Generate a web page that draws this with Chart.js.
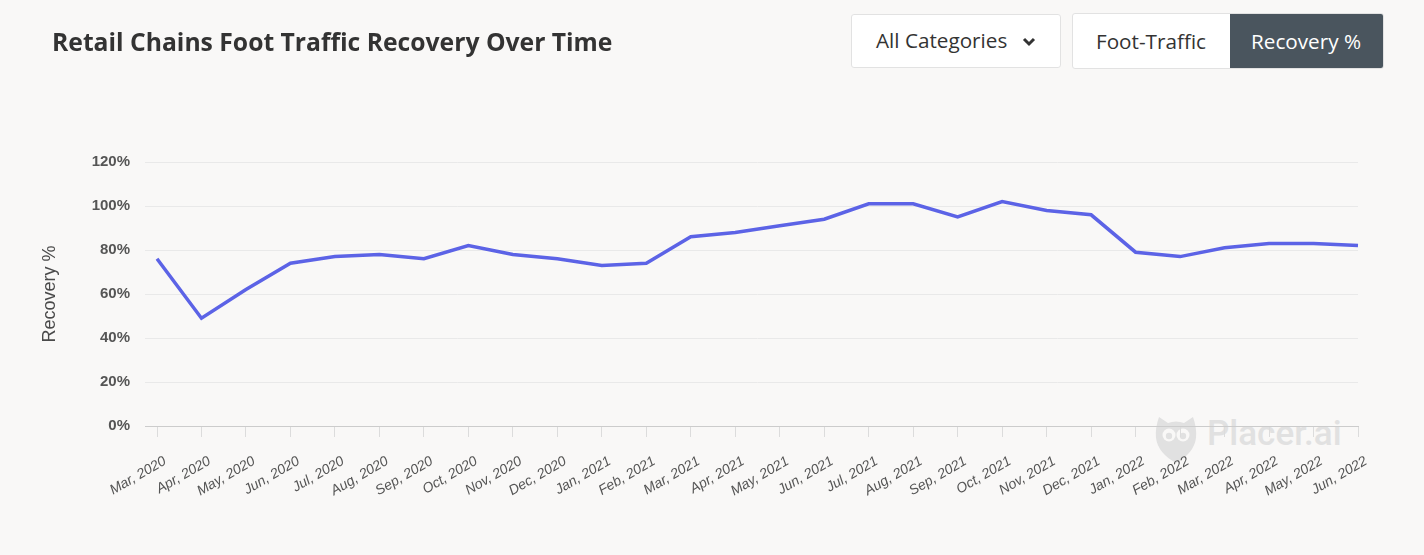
<!DOCTYPE html>
<html>
<head>
<meta charset="utf-8">
<script src="https://cdn.jsdelivr.net/npm/chart.js@4"></script>
<style>
  html, body { margin: 0; padding: 0; background: #f9f8f7; width: 1424px; height: 555px; overflow: hidden; }
  #wrap { position: relative; width: 1424px; height: 555px; }
  #title { position: absolute; left: 52px; top: 25px; font-family: "Open Sans", sans-serif; font-weight: 700; font-size: 24.7px; color: #333; white-space: nowrap; }
  .box { position: absolute; background: #fff; border: 1px solid #e2e2e2; border-radius: 3px; box-sizing: border-box; font-family: "Open Sans", sans-serif; font-size: 20.7px; color: #333; }
  #cat { left: 851px; top: 14px; width: 210px; height: 54px; }
  #cat span { position: absolute; left: 24px; top: 11px; white-space: nowrap; }
  #cat svg { position: absolute; left: 170px; top: 22px; }
  #seg { left: 1072px; top: 13px; width: 312px; height: 56px; overflow: hidden; }
  #seg .ft { position: absolute; left: 23px; top: 13px; white-space: nowrap; }
  #seg .rc { position: absolute; left: 157px; top: 0; width: 155px; height: 56px; background: #4a555e; color: #fff; }
  #seg .rc span { position: absolute; left: 21px; top: 13px; white-space: nowrap; }
  #wm { position: absolute; left: 1154px; top: 414px; }
  #wm .t { position: absolute; left: 53px; top: -1px; font-family: Roboto, sans-serif; font-weight: 500; font-size: 35px; color: #e1e1e1; white-space: nowrap; }
  canvas { position: absolute; left: 0; top: 0; }
</style>
</head>
<body>
<div id="wrap">
  <div id="wm">
    <svg width="44" height="50" viewBox="0 0 44 50">
      <path d="M5 3 L14 9 Q22 6 30 9 L39 3 Q43 14 42 24 Q40 39 22 49 Q4 39 2 24 Q1 14 5 3 Z" fill="#e1e1e1"/>
      <circle cx="15" cy="21" r="6.5" fill="#f9f8f7"/>
      <circle cx="29" cy="21" r="6.5" fill="#f9f8f7"/>
      <circle cx="15" cy="22" r="3.2" fill="#e1e1e1"/>
      <circle cx="29" cy="22" r="3.2" fill="#e1e1e1"/>
    </svg>
    <div class="t">Placer.ai</div>
  </div>
  <canvas id="c" width="1424" height="555"></canvas>
  <div id="title">Retail Chains Foot Traffic Recovery Over Time</div>
  <div id="cat" class="box"><span>All Categories</span>
    <svg width="14" height="10" viewBox="0 0 14 10"><path d="M2 2 L7 7 L12 2" stroke="#333" stroke-width="3" fill="none"/></svg>
  </div>
  <div id="seg" class="box"><span class="ft">Foot-Traffic</span><div class="rc"><span>Recovery %</span></div></div>
</div>
<script>
const months = ["Mar, 2020","Apr, 2020","May, 2020","Jun, 2020","Jul, 2020","Aug, 2020","Sep, 2020","Oct, 2020","Nov, 2020","Dec, 2020","Jan, 2021","Feb, 2021","Mar, 2021","Apr, 2021","May, 2021","Jun, 2021","Jul, 2021","Aug, 2021","Sep, 2021","Oct, 2021","Nov, 2021","Dec, 2021","Jan, 2022","Feb, 2022","Mar, 2022","Apr, 2022","May, 2022","Jun, 2022"];
const recovery = [76,49,62,74,77,78,76,82,78,76,73,74,86,88,91,94,101,101,95,102,98,96,79,77,81,83,83,82];
const yMin = 0, yMax = 120, yStep = 20;
const yTitle = "Recovery %";

new Chart(document.getElementById('c'), {
  type: 'line',
  data: {
    labels: months,
    datasets: [{
      data: recovery,
      borderColor: '#5c63e6',
      borderWidth: 3.5,
      pointRadius: 0,
      pointHoverRadius: 0,
      tension: 0,
      fill: false
    }]
  },
  options: {
    responsive: false,
    devicePixelRatio: 1,
    animation: false,
    layout: { padding: { top: 162, right: 66, bottom: 0, left: 0 } },
    plugins: { legend: { display: false }, tooltip: { enabled: false } },
    scales: {
      x: {
        offset: false,
        afterFit: (s) => { s.height = 129; },
        grid: { drawOnChartArea: false, drawTicks: true, tickLength: 11, color: '#dcdcdc' },
        border: { display: true, color: '#cccccc', width: 1 },
        ticks: {
          autoSkip: false, maxRotation: 30, minRotation: 30, padding: 16, labelOffset: 8,
          color: '#555', font: { family: '"Liberation Sans", Arial, sans-serif', size: 14, style: 'italic' }
        }
      },
      y: {
        min: yMin, max: yMax,
        afterFit: (s) => { s.width = 157; },
        border: { display: false },
        grid: {
          color: (ctx) => (ctx.tick && ctx.tick.value === 0 ? '#cccccc' : '#e9e9e9'),
          tickLength: 12, drawTicks: true
        },
        ticks: {
          stepSize: yStep, padding: 15, color: '#555',
          font: { family: '"Liberation Sans", Arial, sans-serif', size: 15, weight: 'bold' },
          callback: (v) => v + '%'
        },
        title: {
          display: true, text: yTitle, color: '#4a4a4a',
          font: { family: '"Liberation Sans", Arial, sans-serif', size: 18, weight: 'normal' },
          padding: { top: 39, bottom: 0 }
        }
      }
    }
  }
});
</script>
</body>
</html>
